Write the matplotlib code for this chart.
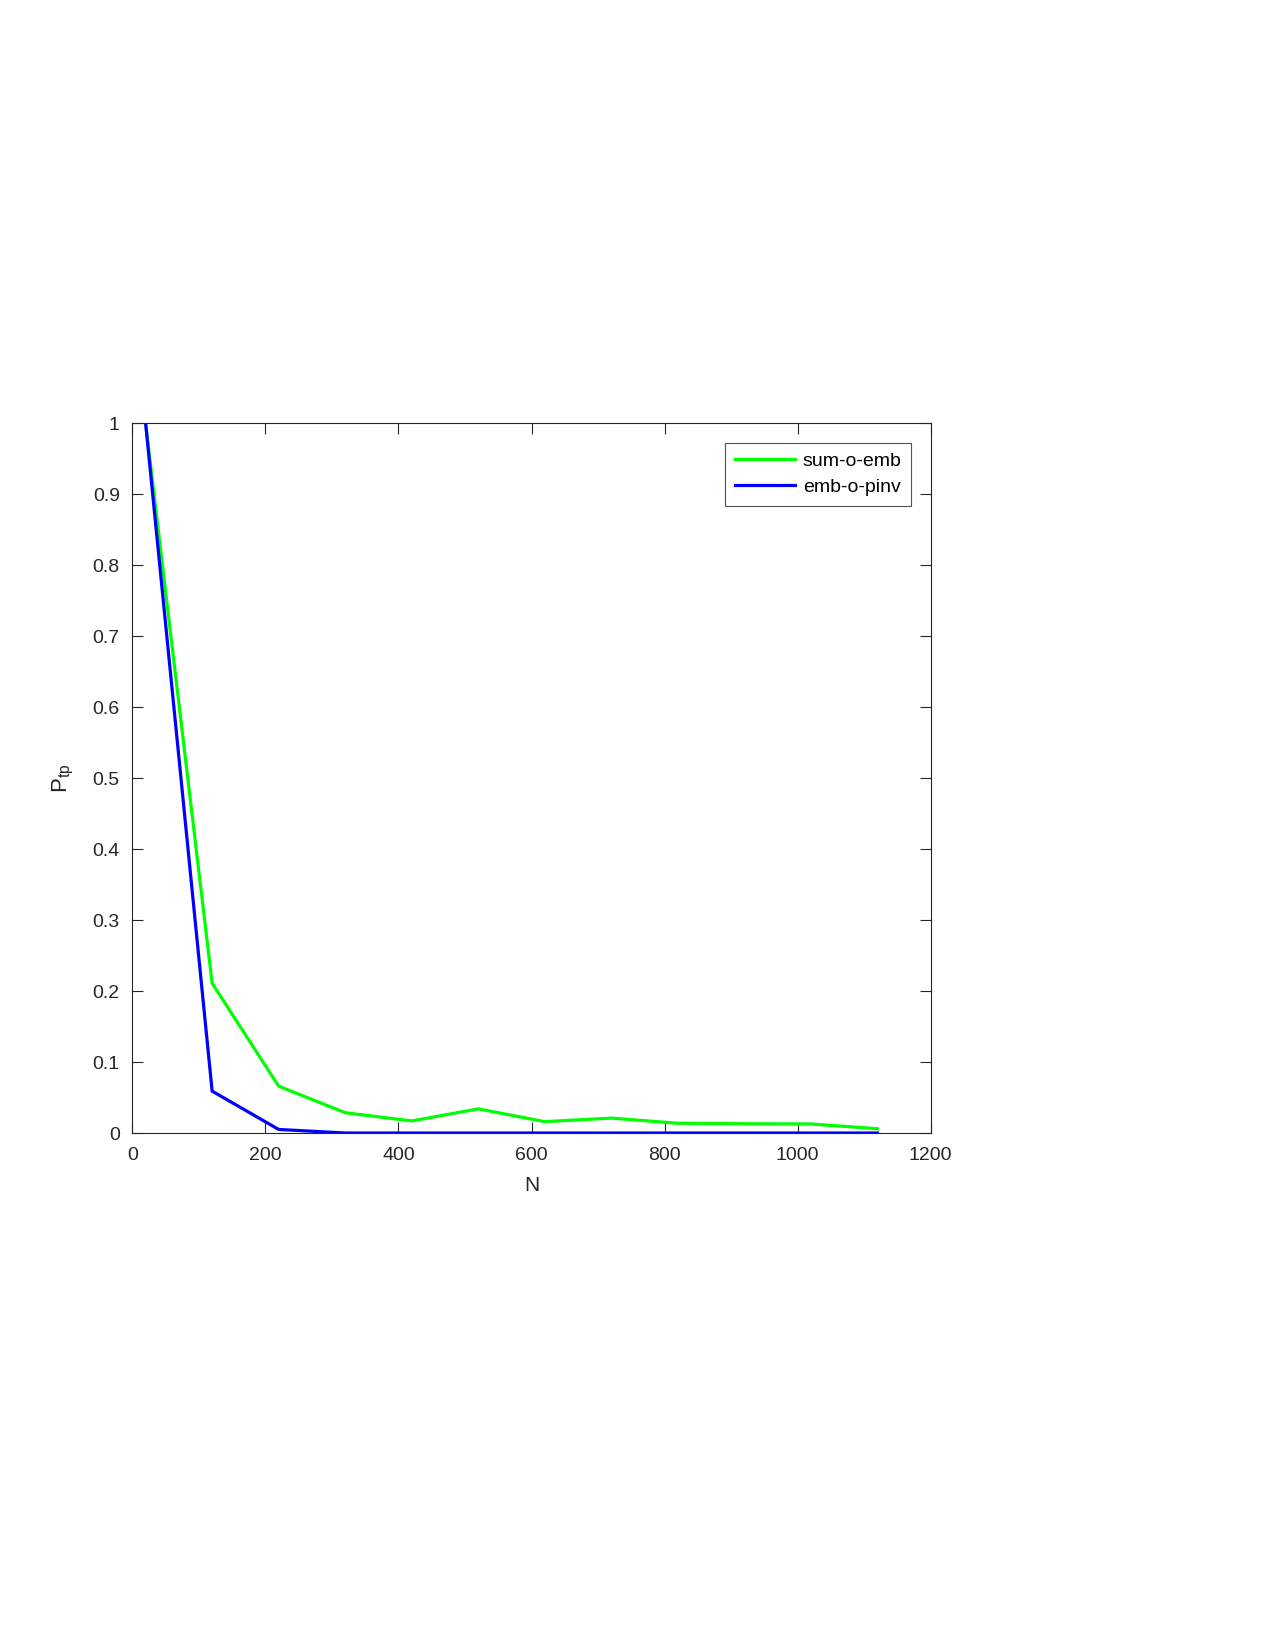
import matplotlib
matplotlib.use("Agg")
import matplotlib.pyplot as plt

N = [20, 120, 220, 320, 420, 520, 620, 720, 820, 920, 1020, 1120]
sum_o_emb = [1.0, 0.211, 0.066, 0.0286, 0.017, 0.034, 0.016, 0.021, 0.0137, 0.013, 0.0127, 0.006]
emb_o_pinv = [1.0, 0.059, 0.005, 0.0, 0.0, 0.0, 0.0, 0.0, 0.0, 0.0, 0.0, 0.0]
labels = ["sum-o-emb", "emb-o-pinv"]

plt.rcParams['font.family'] = ['Liberation Sans', 'DejaVu Sans']
fig = plt.figure(figsize=(12.75, 16.5), dpi=100)
ax = fig.add_axes([132.3/1275, 1-1133/1650, (930.7-132.3)/1275, (1133-423.3)/1650])

ax.plot(N, sum_o_emb, color='#00ff00', lw=2.3, label=labels[0], solid_joinstyle='miter')
ax.plot(N, emb_o_pinv, color='#0000ff', lw=2.3, label=labels[1], solid_joinstyle='miter')

ax.set_xlim(0, 1200)
ax.set_ylim(0, 1)
ax.set_xticks(range(0, 1201, 200))
ax.set_yticks([i/10 for i in range(11)])
ax.set_yticklabels(['0'] + [f'{i/10:g}' for i in range(1, 10)] + ['1'])
ax.tick_params(direction='in', length=8, width=0.8, top=True, right=True,
               labelsize=14, colors='#262626')
ax.tick_params(axis='x', pad=10)
ax.tick_params(axis='y', pad=9)
for s in ax.spines.values():
    s.set_color('#262626')
    s.set_linewidth(0.8)
ax.set_xlabel('N', fontsize=15, color='#262626', labelpad=9)
ax.set_ylabel(r'$\mathregular{P_{tp}}$', fontsize=16, color='#262626', labelpad=12)

leg = ax.legend(loc='upper right', fontsize=14, frameon=True, fancybox=False,
                edgecolor='#262626', handlelength=3.1, borderaxespad=1.0,
                borderpad=0.5, labelspacing=0.42, handletextpad=0.4)
leg.get_frame().set_linewidth(0.8)

fig.savefig('out.png', dpi=100, facecolor='white')
